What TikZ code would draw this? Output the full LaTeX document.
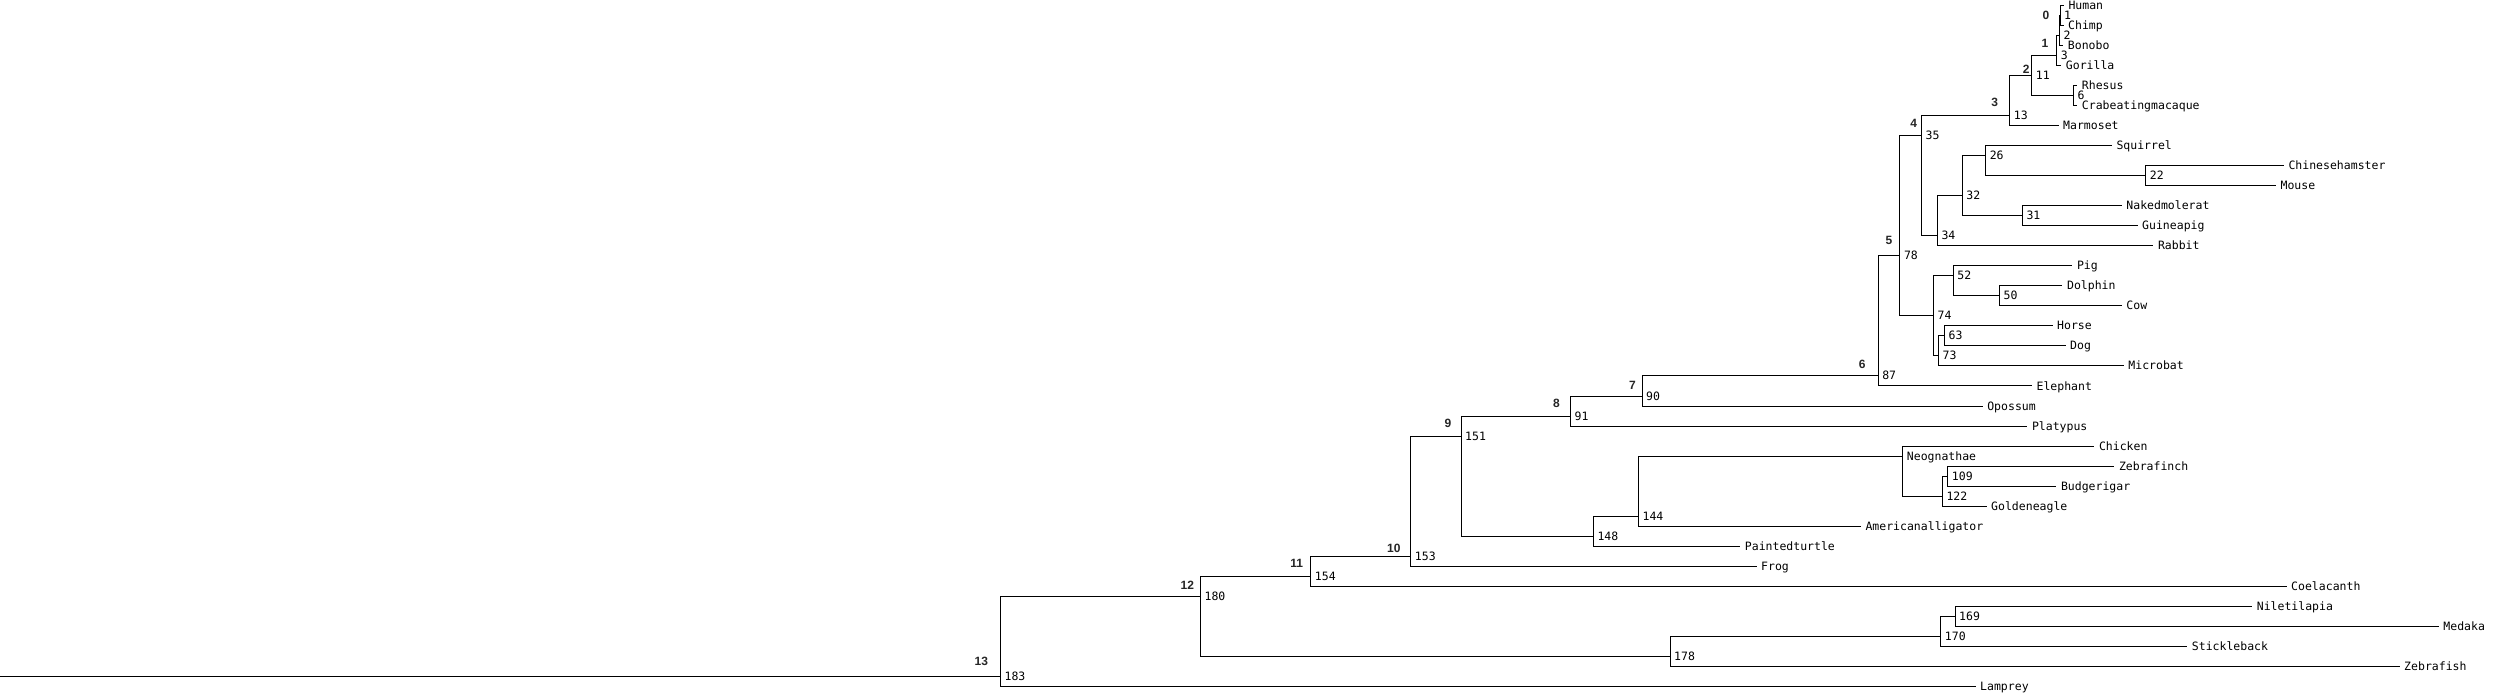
\documentclass[tikz,border=0pt]{standalone}
\usepackage{fontspec}
\newfontfamily\treefont{DejaVu Sans Mono}
\newfontfamily\bnumfont{Liberation Sans}
\tikzset{
  edge/.style={line width=1pt, line cap=rect},
  leaflab/.style={anchor=base west, inner sep=0pt, font=\treefont\fontsize{11.5}{12}\selectfont},
  numlab/.style={anchor=base west, inner sep=0pt, font=\treefont\fontsize{11.5}{12}\selectfont},
  boldlab/.style={anchor=center, inner sep=0pt, text=black!85, font=\bnumfont\bfseries\fontsize{12}{13}\selectfont}
}
\begin{document}
\begin{tikzpicture}[x=1pt,y=-1pt]
\fill[white] (0,0) rectangle (2500,700);
\useasboundingbox (0,0) rectangle (2500,700);
% leaves: name / end x / y / text
\foreach \n/\x/\y/\t in {
 Human/2063.3/6/Human, Chimp/2063/26/Chimp, Bonobo/2062.7/46/Bonobo, Gorilla/2060.7/66/Gorilla,
 Rhesus/2076.7/86/Rhesus, Crab/2076.7/106/Crabeatingmacaque, Marmoset/2058/126/Marmoset,
 Squirrel/2111.3/146/Squirrel, Chinesehamster/2283.3/166/Chinesehamster, Mouse/2275.4/186/Mouse,
 Nakedmolerat/2121.2/206/Nakedmolerat, Guineapig/2137/226/Guineapig, Rabbit/2152.8/246/Rabbit,
 Pig/2071.8/266/Pig, Dolphin/2061.9/286/Dolphin, Cow/2121.2/306/Cow, Horse/2052/326/Horse,
 Dog/2065/346/Dog, Microbat/2123.2/366/Microbat, Elephant/2031.4/386/Elephant,
 Opossum/1982.1/406/Opossum, Platypus/2026.8/426/Platypus, Chicken/2093.8/446/Chicken,
 Zebrafinch/2113.8/466/Zebrafinch, Budgerigar/2055.8/486/Budgerigar, Goldeneagle/1986/506/Goldeneagle,
 Americanalligator/1860.3/526/Americanalligator, Paintedturtle/1739.7/546/Paintedturtle,
 Frog/1756/566/Frog, Coelacanth/2286/586/Coelacanth, Niletilapia/2251.6/606/Niletilapia,
 Medaka/2438.2/626/Medaka, Stickleback/2186.7/646/Stickleback, Zebrafish/2399/666/Zebrafish,
 Lamprey/1975/686/Lamprey}
{
 \coordinate (\n) at (\x,\y);
 \node[leaflab] (t\n) at ([shift={(5,4)}]\n) {\t};
}
% internal nodes: name / x / y / label
\foreach \n/\x/\y/\t in {
 n1/2060/16/1, n2/2059.3/36/2, n3/2056.7/56/3, n6/2073.3/96/6, n11/2031.7/76/11,
 n13/2009.7/116/13, n22/2145.7/176/22, n26/1985.6/156/26, n31/2022.3/216/31,
 n32/1962.2/196/32, n34/1937.3/236/34, n35/1921.5/136/35, n50/1999.4/296/50,
 n52/1953.2/276/52, n63/1944.5/336/63, n73/1938.5/356/73, n74/1933.4/316/74,
 n78/1899.8/256/78, n87/1878.1/376/87, n90/1642/396/90, n91/1570.5/416/91,
 n109/1947.7/476/109, n122/1942.3/496/122, nNeo/1902.7/456/Neognathae,
 n144/1638.4/516/144, n148/1593.3/536/148, n151/1461/436/151, n153/1410.7/556/153,
 n154/1310.7/576/154, n169/1955/616/169, n170/1940.7/636/170, n178/1670/656/178,
 n180/1200.4/596/180, n183/1000.4/676/183}
{
 \coordinate (\n) at (\x,\y);
 \node[numlab] (l\n) at ([shift={(4,4)}]\n) {\t};
}
\coordinate (root) at (0,676);
% edges
\foreach \p/\c in {
 n1/Human, n1/Chimp, n2/n1, n2/Bonobo, n3/n2, n3/Gorilla, n6/Rhesus, n6/Crab,
 n11/n3, n11/n6, n13/n11, n13/Marmoset, n35/n13, n35/n34, n34/n32, n34/Rabbit,
 n32/n26, n32/n31, n26/Squirrel, n26/n22, n22/Chinesehamster, n22/Mouse,
 n31/Nakedmolerat, n31/Guineapig, n78/n35, n78/n74, n74/n52, n74/n73,
 n52/Pig, n52/n50, n50/Dolphin, n50/Cow, n73/n63, n73/Microbat, n63/Horse, n63/Dog,
 n87/n78, n87/Elephant, n90/n87, n90/Opossum, n91/n90, n91/Platypus,
 n151/n91, n151/n148, n148/n144, n148/Paintedturtle, n144/nNeo, n144/Americanalligator,
 nNeo/Chicken, nNeo/n122, n122/n109, n122/Goldeneagle, n109/Zebrafinch, n109/Budgerigar,
 n153/n151, n153/Frog, n154/n153, n154/Coelacanth, n180/n154, n180/n178,
 n178/n170, n178/Zebrafish, n170/n169, n170/Stickleback, n169/Niletilapia, n169/Medaka,
 n183/n180, n183/Lamprey}
{
 \draw[edge] (\p) |- (\c);
}
\draw[edge] (root) -- (n183);
% bold path labels
\foreach \n/\x/\y/\t in {
 b0/2046/15/0, b1/2045/43/1, b2/2026.3/69/2, b3/1994.8/102/3, b4/1913.6/123/4,
 b5/1889/240/5, b6/1862.3/364/6, b7/1632.4/385/7, b8/1556.5/403/8, b9/1448/423.3/9,
 b10/1393.75/548.3/10, b11/1296.6/563/11, b12/1187.3/585/12, b13/981.3/661.7/13}
{
 \node[boldlab] (\n) at (\x,\y) {\t};
}
\end{tikzpicture}
\end{document}
